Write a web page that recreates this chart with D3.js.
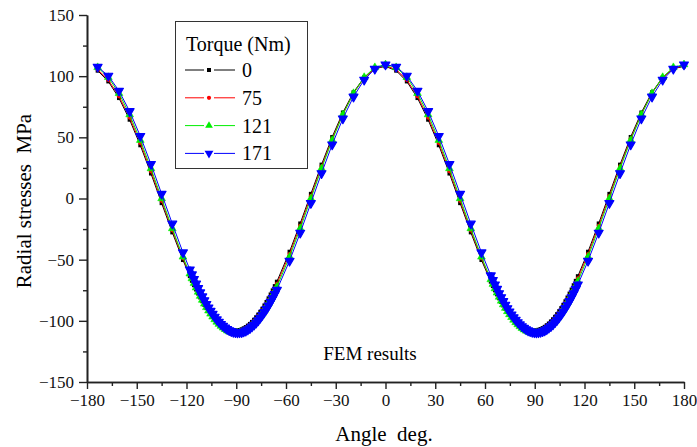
<!DOCTYPE html>
<html>
<head>
<meta charset="utf-8">
<script src="https://cdn.jsdelivr.net/npm/d3@7"></script>
<style>
  body { margin: 0; background: #fff; }
</style>
</head>
<body>
<div id="chart"></div>
<script>
// angle (deg) - sparse steps + dense steps round the two minima
const angles = [-173.57, -167.14, -160.71, -154.29, -147.86, -141.43, -135, -128.57, -122.14,
  -118, -116.75, -115.5, -114.25, -113, -111.75, -110.5, -109.25, -108, -106.75, -105.5, -104.25, -103, -101.75, -100.5, -99.25, -98, -96.75, -95.5, -94.25, -93, -91.75,
  -90.5, -89.25, -88, -86.75, -85.5, -84.25, -83, -81.75, -80.5, -79.25, -78, -76.75, -75.5, -74.25, -73, -71.75, -70.5, -69.25, -68, -66.75, -65.5,
  -57.86, -51.43, -45, -38.57, -32.14, -25.71, -19.29, -12.86, -6.43, 0, 6.43, 12.86, 19.29, 25.71, 32.14, 38.57, 45, 51.43, 57.86,
  63.5, 64.75, 66, 67.25, 68.5, 69.75, 71, 72.25, 73.5, 74.75, 76, 77.25, 78.5, 79.75, 81, 82.25, 83.5, 84.75, 86, 87.25, 88.5, 89.75,
  91, 92.25, 93.5, 94.75, 96, 97.25, 98.5, 99.75, 101, 102.25, 103.5, 104.75, 106, 107.25, 108.5, 109.75, 111, 112.25, 113.5, 114.75, 116,
  122.14, 128.57, 135, 141.43, 147.86, 154.29, 160.71, 167.14, 173.57, 180];

// radial stress (MPa) for each torque
const torque0 = [104.5, 95.7, 82.1, 64.4, 43.5, 20.4, -3.8, -27.7, -50.3,
  -63.5, -67.3, -70.9, -74.4, -77.7, -80.9, -84.0, -86.9, -89.6, -92.1, -94.5, -96.7, -98.7, -100.5, -102.2, -103.6, -104.9, -105.9, -106.7, -107.3, -107.8, -108.0,
  -108.0, -107.9, -107.5, -106.9, -106.1, -105.1, -103.9, -102.5, -100.9, -99.1, -97.1, -94.9, -92.6, -90.1, -87.4, -84.6, -81.6, -78.4, -75.1, -71.6, -68.0,
  -43.5, -20.4, 3.8, 27.7, 50.3, 70.3, 86.8, 99.0, 106.1, 108, 104.5, 95.7, 82.1, 64.4, 43.5, 20.4, -3.8, -27.7, -50.3,
  -68.0, -71.6, -75.1, -78.4, -81.6, -84.6, -87.4, -90.1, -92.6, -94.9, -97.1, -99.1, -100.9, -102.5, -103.9, -105.1, -106.1, -106.9, -107.5, -107.9, -108.0, -108.0,
  -107.8, -107.3, -106.7, -105.9, -104.9, -103.6, -102.2, -100.5, -98.7, -96.7, -94.5, -92.1, -89.6, -86.9, -84.0, -80.9, -77.7, -74.4, -70.9, -67.3, -63.5,
  -43.5, -20.4, 3.8, 27.7, 50.3, 70.3, 86.8, 99.0, 106.1, 108];

const torque75 = [105.4, 96.9, 83.6, 66.2, 45.4, 22.3, -1.9, -26.0, -48.8,
  -62.2, -66.0, -69.7, -73.3, -76.7, -80.0, -83.1, -86.1, -88.9, -91.5, -94.0, -96.2, -98.3, -100.2, -102.0, -103.5, -104.8, -105.9, -106.9, -107.6, -108.1, -108.4,
  -108.5, -108.4, -108.1, -107.6, -106.9, -105.9, -104.8, -103.5, -102.0, -100.2, -98.3, -96.2, -94.0, -91.5, -88.9, -86.1, -83.1, -80.0, -76.7, -73.3, -69.8,
  -45.4, -22.3, 1.9, 26.0, 48.8, 69.1, 86.0, 98.6, 106.2, 108.5, 105.4, 96.9, 83.6, 66.2, 45.4, 22.3, -1.9, -26.0, -48.8,
  -66.8, -70.5, -74.0, -77.4, -80.6, -83.7, -86.7, -89.4, -92.0, -94.4, -96.7, -98.7, -100.6, -102.3, -103.8, -105.1, -106.2, -107.0, -107.7, -108.1, -108.4, -108.5,
  -108.4, -108.0, -107.5, -106.7, -105.7, -104.5, -103.2, -101.6, -99.9, -97.9, -95.8, -93.5, -91.0, -88.3, -85.5, -82.5, -79.4, -76.1, -72.6, -69.0, -65.3,
  -45.4, -22.3, 1.9, 26.0, 48.8, 69.1, 86.0, 98.6, 106.2, 108.5];

const torque121 = [107.2, 99.1, 86.0, 68.6, 47.7, 24.5, 0, -24.5, -47.7,
  -61.5, -65.4, -69.2, -72.9, -76.4, -79.8, -83.0, -86.1, -89.0, -91.7, -94.3, -96.7, -98.9, -100.9, -102.7, -104.3, -105.7, -106.9, -108.0, -108.8, -109.4, -109.8,
  -110.0, -110.0, -109.7, -109.3, -108.6, -107.8, -106.7, -105.4, -104.0, -102.3, -100.5, -98.4, -96.2, -93.8, -91.2, -88.4, -85.5, -82.4, -79.1, -75.7, -72.2,
  -47.7, -24.5, 0, 24.5, 47.7, 68.6, 86.0, 99.1, 107.2, 109.5, 107.2, 99.1, 86.0, 68.6, 47.7, 24.5, 0, -24.5, -47.7,
  -66.2, -70.0, -73.6, -77.1, -80.5, -83.7, -86.7, -89.6, -92.3, -94.8, -97.1, -99.3, -101.3, -103.0, -104.6, -106.0, -107.2, -108.2, -108.9, -109.5, -109.8, -110.0,
  -109.9, -109.7, -109.2, -108.5, -107.6, -106.5, -105.2, -103.7, -102.0, -100.1, -98.0, -95.7, -93.3, -90.6, -87.8, -84.8, -81.7, -78.4, -75.0, -71.4, -67.7,
  -47.7, -24.5, 0, 24.5, 47.7, 68.6, 86.0, 99.1, 107.2, 109.5];

const torque171 = [107.6, 100.3, 88.0, 71.3, 51.0, 28.1, 3.8, -20.6, -44.1,
  -58.1, -62.1, -65.9, -69.7, -73.3, -76.8, -80.1, -83.3, -86.3, -89.2, -91.9, -94.4, -96.7, -98.9, -100.9, -102.7, -104.2, -105.6, -106.8, -107.8, -108.5, -109.1,
  -109.4, -109.6, -109.5, -109.3, -108.8, -108.1, -107.2, -106.1, -104.8, -103.3, -101.6, -99.7, -97.6, -95.3, -92.9, -90.3, -87.5, -84.5, -81.4, -78.1, -74.7,
  -51.0, -28.1, -3.8, 20.6, 44.1, 65.3, 83.2, 97.0, 105.9, 109.5, 107.6, 100.3, 88.0, 71.3, 51.0, 28.1, 3.8, -20.6, -44.1,
  -62.9, -66.7, -70.4, -74.0, -77.5, -80.8, -83.9, -86.9, -89.8, -92.4, -94.9, -97.2, -99.3, -101.2, -103.0, -104.5, -105.8, -107.0, -107.9, -108.6, -109.1, -109.5,
  -109.6, -109.5, -109.1, -108.6, -107.9, -107.0, -105.8, -104.5, -103.0, -101.2, -99.3, -97.2, -94.9, -92.4, -89.7, -86.9, -83.9, -80.8, -77.5, -74.0, -70.4,
  -51.0, -28.1, -3.8, 20.6, 44.1, 65.3, 83.2, 97.0, 105.9, 109.5];

const seriesNames = ["0", "75", "121", "171"];
const xTicks = [-180, -150, -120, -90, -60, -30, 0, 30, 60, 90, 120, 150, 180];
const yTicks = [-150, -100, -50, 0, 50, 100, 150];

const width = 697, height = 447;
const plotLeft = 87, plotRight = 684, plotTop = 15, plotBottom = 382;
const serif = "'Liberation Serif', 'Times New Roman', 'DejaVu Serif', serif";

const svg = d3.select("#chart").append("svg")
  .attr("width", width)
  .attr("height", height);

const x = d3.scaleLinear().domain([-180, 180]).range([plotLeft, plotRight]);
const y = d3.scaleLinear().domain([-150, 150]).range([plotBottom, plotTop]);

// series styles
const series = [
  { name: seriesNames[0], values: torque0, color: "#000000", sym: d3.symbolSquare, size: 16, rot: 0, sw: 0 },
  { name: seriesNames[1], values: torque75, color: "#ff0000", sym: d3.symbolCircle, size: 14, rot: 0, sw: 0 },
  { name: seriesNames[2], values: torque121, color: "#00ee00", sym: d3.symbolTriangle, size: 26, rot: 0, sw: 0.6 },
  { name: seriesNames[3], values: torque171, color: "#0000ff", sym: d3.symbolTriangle, size: 34, rot: 180, sw: 1.2 }
];

// axes
const fmt = d => d3.format("d")(d).replace("-", "\u2212");

const xAxis = svg.append("g")
  .attr("transform", `translate(0,${plotBottom})`)
  .call(d3.axisBottom(x).tickValues(xTicks).tickSize(7).tickSizeOuter(0).tickPadding(5).tickFormat(fmt));
svg.append("g")
  .attr("transform", `translate(0,${plotBottom})`)
  .call(d3.axisBottom(x).tickValues(d3.range(-165, 180, 30)).tickSize(4).tickSizeOuter(0).tickFormat(""));

const yAxis = svg.append("g")
  .attr("transform", `translate(${plotLeft},0)`)
  .call(d3.axisLeft(y).tickValues(yTicks).tickSize(8).tickSizeOuter(0).tickPadding(5).tickFormat(fmt));
svg.append("g")
  .attr("transform", `translate(${plotLeft},0)`)
  .call(d3.axisLeft(y).tickValues(d3.range(-125, 150, 50)).tickSize(4).tickSizeOuter(0).tickFormat(""));

svg.selectAll(".domain").attr("stroke", "#222").attr("stroke-width", 1.6);
svg.selectAll(".tick line").attr("stroke", "#222").attr("stroke-width", 1.4);
xAxis.selectAll("text").style("font-size", "17px").style("font-family", serif).attr("fill", "#111");
yAxis.selectAll("text").style("font-size", "17px").style("font-family", serif).attr("fill", "#111");

// curves
const line = d3.line()
  .x(d => x(d[0]))
  .y(d => y(d[1]));

series.forEach((s, si) => {
  const pts = angles.map((a, i) => [a, s.values[i]]);
  svg.append("path")
    .datum(pts)
    .attr("fill", "none")
    .attr("stroke", s.color)
    .attr("stroke-width", 1)
    .attr("d", line);

  // last series: closely packed symbols merge into a solid band
  if (si === series.length - 1) {
    const runs = [];
    let run = [];
    pts.forEach((p, i) => {
      if (i > 0 && p[0] - pts[i - 1][0] < 2) {
        if (run.length === 0) run.push(pts[i - 1]);
        run.push(p);
      } else if (run.length) { runs.push(run); run = []; }
    });
    if (run.length) runs.push(run);
    runs.forEach(r => {
      svg.append("path")
        .datum(r)
        .attr("fill", "none")
        .attr("stroke", s.color)
        .attr("stroke-width", 6)
        .attr("stroke-linecap", "round")
        .attr("d", line);
    });
  }

  svg.append("g").selectAll("path")
    .data(pts)
    .enter()
    .append("path")
    .attr("d", d3.symbol().type(s.sym).size(s.size))
    .attr("transform", d => `translate(${x(d[0])},${y(d[1])}) rotate(${s.rot})`)
    .attr("fill", s.color)
    .attr("stroke", s.sw ? s.color : "none")
    .attr("stroke-width", s.sw)
    .attr("stroke-linejoin", "round");
});

// legend
const lg = svg.append("g");
lg.append("rect")
  .attr("x", 175.5).attr("y", 21.5)
  .attr("width", 132).attr("height", 147)
  .attr("fill", "#fff")
  .attr("stroke", "#333")
  .attr("stroke-width", 1);
lg.append("text")
  .attr("x", 186).attr("y", 51)
  .style("font-family", serif)
  .style("font-size", "20px")
  .text("Torque (Nm)");

series.forEach((s, i) => {
  const ly = 70 + i * 27.8;
  lg.append("line").attr("x1", 185).attr("x2", 204).attr("y1", ly).attr("y2", ly)
    .attr("stroke", s.color).attr("stroke-width", 1);
  lg.append("line").attr("x1", 214).attr("x2", 235).attr("y1", ly).attr("y2", ly)
    .attr("stroke", s.color).attr("stroke-width", 1);
  lg.append("path")
    .attr("d", d3.symbol().type(s.sym).size(s.size))
    .attr("transform", `translate(209,${ly}) rotate(${s.rot})`)
    .attr("fill", s.color);
  lg.append("text")
    .attr("x", 242).attr("y", ly + 7)
    .style("font-family", serif)
    .style("font-size", "20px")
    .text(s.name);
});

// titles
svg.append("text")
  .attr("x", 370).attr("y", 360)
  .attr("text-anchor", "middle")
  .style("font-family", serif)
  .style("font-size", "19px")
  .text("FEM results");

svg.append("text")
  .attr("x", 384).attr("y", 441)
  .attr("text-anchor", "middle")
  .style("font-family", serif)
  .style("font-size", "21px")
  .text("Angle\u00a0\u00a0deg.");

svg.append("text")
  .attr("transform", "rotate(-90)")
  .attr("x", -201).attr("y", 31)
  .attr("text-anchor", "middle")
  .style("font-family", serif)
  .style("font-size", "21px")
  .text("Radial stresses\u00a0\u00a0MPa");
</script>
</body>
</html>
